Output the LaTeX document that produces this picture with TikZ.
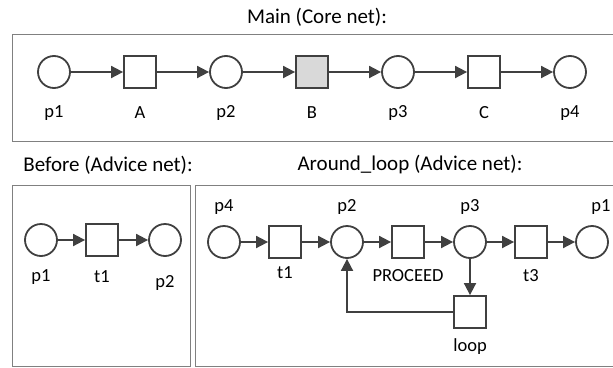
\documentclass[tikz,border=0pt]{standalone}
\usepackage{fontspec}
\setmainfont{Carlito}
\usetikzlibrary{arrows.meta}

\definecolor{netgray}{HTML}{404040}
\definecolor{boxgray}{HTML}{808080}
\definecolor{busyfill}{HTML}{D9D9D9}

\tikzset{
  place/.style={draw=netgray, circle, line width=1.8pt, minimum size=32pt, inner sep=0pt},
  trans/.style={draw=netgray, rectangle, line width=1.8pt, minimum size=32pt, inner sep=0pt},
  arc/.style={draw=netgray, line width=1.8pt, -{Triangle[length=12pt,width=12pt]}},
  netbox/.style={draw=boxgray, line width=1pt},
  lbl/.style={font=\fontsize{18.5}{20}\selectfont, inner sep=0pt, text=black},
  ttl/.style={font=\fontsize{21}{23}\selectfont, inner sep=0pt, text=black},
}

\def\pnplace(#1,#2,#3,#4,#5,#6){
  \node[place] (#1) at (#2,#3) {};
  \node[lbl] (#1-l) at (#5,#6) {#4};
}
\def\pntrans(#1,#2,#3,#4,#5,#6){
  \node[trans] (#1) at (#2,#3) {};
  \node[lbl] (#1-l) at (#5,#6) {#4};
}

\begin{document}
\begin{tikzpicture}[x=1pt, y=-1pt]
\useasboundingbox (0,0) rectangle (613,367);
% Main (core net)
\node[ttl] (main-t) at (317,17) {Main (Core net):};
\draw[netbox] (12,34) rectangle (613.5,141);
\pnplace(m-p1,54,72,p1,54,113)
\pntrans(m-A,140,72,A,140,113)
\pnplace(m-p2,226,72,p2,226,113)
\pntrans(m-B,312,72,B,312,113)
\node[trans, fill=busyfill] at (m-B) {};
\pnplace(m-p3,398,72,p3,398,113)
\pntrans(m-C,484,72,C,484,113)
\pnplace(m-p4,570,72,p4,570,113)
\draw[arc] (m-p1) -- (m-A);
\draw[arc] (m-A) -- (m-p2);
\draw[arc] (m-p2) -- (m-B);
\draw[arc] (m-B) -- (m-p3);
\draw[arc] (m-p3) -- (m-C);
\draw[arc] (m-C) -- (m-p4);

% Before (advice net)
\node[ttl] (before-t) at (108,165) {Before (Advice net):};
\draw[netbox] (12,185) rectangle (190,366);
\pnplace(b-p1,41,240,p1,41,277)
\pntrans(b-t1,102,240,t1,102,277)
\pnplace(b-p2,165,240,p2,165,283)
\draw[arc] (b-p1) -- (b-t1);
\draw[arc] (b-t1) -- (b-p2);

% Around_loop (advice net)
\node[ttl] (around-t) at (410,165) {Around\_loop (Advice net):};
\draw[netbox] (195,185) rectangle (613.5,366);
\pnplace(a-p4,224,242,p4,224,207)
\pntrans(a-t1,285,242,t1,285,273)
\pnplace(a-p2,347,242,p2,347,207)
\pntrans(a-go,408,242,PROCEED,408,276)
\pnplace(a-p3,470,242,p3,470,207)
\pntrans(a-t3,531,242,t3,531,276)
\pnplace(a-p1,592,242,p1,601,207)
\pntrans(a-loop,470,312,loop,470,347)
\draw[arc] (a-p4) -- (a-t1);
\draw[arc] (a-t1) -- (a-p2);
\draw[arc] (a-p2) -- (a-go);
\draw[arc] (a-go) -- (a-p3);
\draw[arc] (a-p3) -- (a-t3);
\draw[arc] (a-t3) -- (a-p1);
\draw[arc] (a-p3) -- (a-loop);
\draw[arc] (a-loop.west) -| (a-p2.south);
\end{tikzpicture}
\end{document}
